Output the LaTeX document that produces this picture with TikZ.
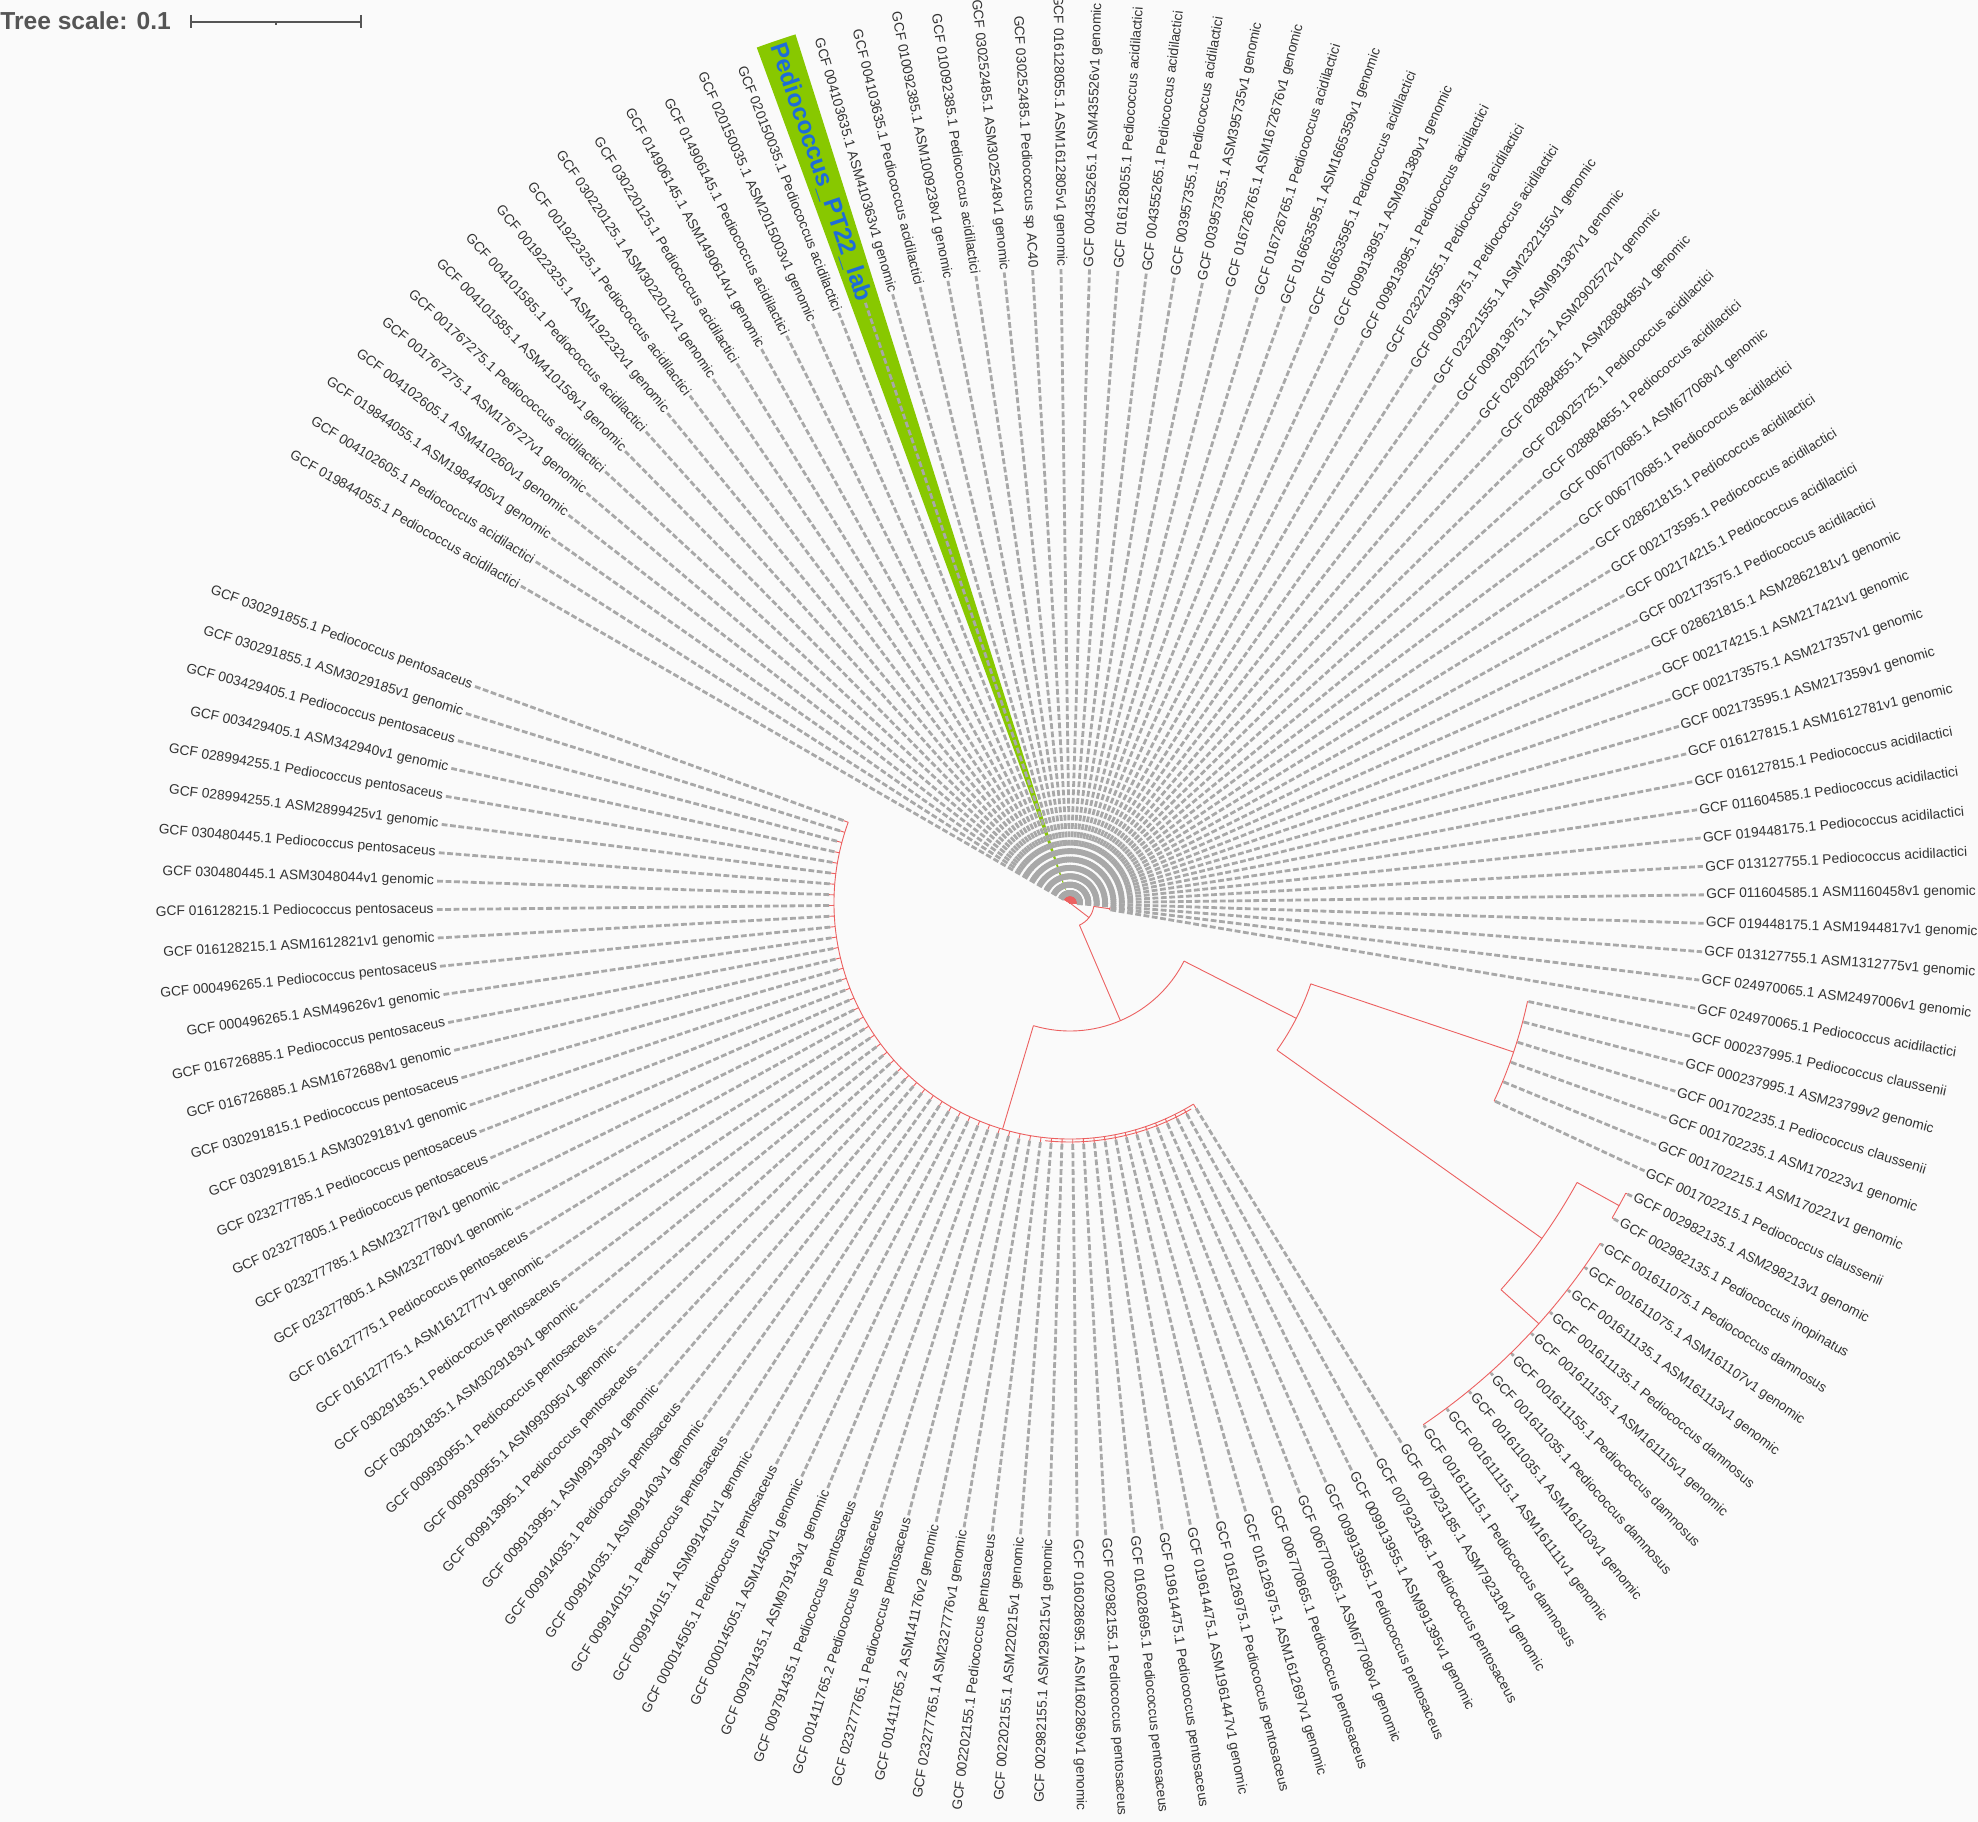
\documentclass[tikz,border=0pt]{standalone}
\usepackage{fontspec}
\setmainfont{Liberation Sans}
\definecolor{bgcol}{RGB}{250,250,250}
\definecolor{labtext}{RGB}{51,51,51}
\definecolor{brred}{RGB}{236,96,96}
\definecolor{dashgray}{RGB}{168,168,168}
\definecolor{ptgreen}{RGB}{136,200,0}
\definecolor{ptblue}{RGB}{30,108,218}
\definecolor{scalegray}{RGB}{85,85,85}
\begin{document}
\begin{tikzpicture}[x=0.5pt, y=0.5pt,
    lab/.style={inner sep=1pt, text=labtext, font=\fontsize{6.9}{8}\selectfont},
    ptlab/.style={inner sep=1pt, text=ptblue, font=\fontsize{12.2}{14}\selectfont\bfseries},
    br/.style={draw=brred, line width=0.45pt},
    leafdash/.style={draw=dashgray, line width=1.4pt, dash pattern=on 2.9pt off 1.3pt},
    ptband/.style={fill=ptgreen},
    sbar/.style={draw=scalegray, line width=0.85pt},
    scaletxt/.style={inner sep=0pt, text=scalegray, font=\fontsize{12.3}{14}\selectfont\bfseries}]
  \fill[bgcol] (-1070,-919) rectangle (908,903);
  \useasboundingbox (-1070,-919) rectangle (908,903);

  \node[scaletxt, anchor=base west] (ts) at (-1070,873) {Tree scale: 0.1};
  \coordinate (sbl) at (-879,881);
  \coordinate (sbm) at (-794,881);
  \coordinate (sbr) at (-709,881);
  \draw[sbar] (sbl) -- (sbr);
  \draw[sbar] (sbl) ++(0,7) -- ++(0,-13.5);
  \draw[sbar] (sbr) ++(0,7) -- ++(0,-13.5);
  \draw[sbar] (sbm) -- ++(0,-3.5);

  \fill[ptband] (107.54:14) -- (107.54:911) arc[start angle=107.54, end angle=110.11, radius=911] -- (110.11:14) -- cycle;

  \coordinate (root) at (0,0);
  \def\rl{634}
  \foreach \ra/\rt/\txt [count=\i] in {
      0/7/GCF 019844055.1 Pediococcus acidilactici,
      0/7/GCF 004102605.1 Pediococcus acidilactici,
      0/7/GCF 019844055.1 ASM1984405v1 genomic,
      0/7/GCF 004102605.1 ASM410260v1 genomic,
      0/7/GCF 001767275.1 ASM176727v1 genomic,
      0/7/GCF 001767275.1 Pediococcus acidilactici,
      0/7/GCF 004101585.1 ASM410158v1 genomic,
      0/7/GCF 004101585.1 Pediococcus acidilactici,
      0/7/GCF 001922325.1 ASM192232v1 genomic,
      0/7/GCF 001922325.1 Pediococcus acidilactici,
      0/7/GCF 030220125.1 ASM3022012v1 genomic,
      0/7/GCF 030220125.1 Pediococcus acidilactici,
      0/7/GCF 014906145.1 ASM1490614v1 genomic,
      0/7/GCF 014906145.1 Pediococcus acidilactici,
      0/7/GCF 020150035.1 ASM2015003v1 genomic,
      0/7/GCF 020150035.1 Pediococcus acidilactici,
      0/7/Pediococcus\_PT22\_lab,
      0/7/GCF 004103635.1 ASM410363v1 genomic,
      0/7/GCF 004103635.1 Pediococcus acidilactici,
      0/7/GCF 010092385.1 ASM1009238v1 genomic,
      0/7/GCF 010092385.1 Pediococcus acidilactici,
      0/7/GCF 030252485.1 ASM3025248v1 genomic,
      0/7/GCF 030252485.1 Pediococcus sp AC40,
      0/7/GCF 016128055.1 ASM1612805v1 genomic,
      0/7/GCF 004355265.1 ASM435526v1 genomic,
      0/7/GCF 016128055.1 Pediococcus acidilactici,
      0/7/GCF 004355265.1 Pediococcus acidilactici,
      0/7/GCF 003957355.1 Pediococcus acidilactici,
      0/7/GCF 003957355.1 ASM395735v1 genomic,
      0/7/GCF 016726765.1 ASM1672676v1 genomic,
      0/7/GCF 016726765.1 Pediococcus acidilactici,
      0/7/GCF 016653595.1 ASM1665359v1 genomic,
      0/7/GCF 016653595.1 Pediococcus acidilactici,
      0/7/GCF 009913895.1 ASM991389v1 genomic,
      0/7/GCF 009913895.1 Pediococcus acidilactici,
      0/7/GCF 023221555.1 Pediococcus acidilactici,
      0/7/GCF 009913875.1 Pediococcus acidilactici,
      0/7/GCF 023221555.1 ASM2322155v1 genomic,
      0/7/GCF 009913875.1 ASM991387v1 genomic,
      0/7/GCF 029025725.1 ASM2902572v1 genomic,
      0/7/GCF 028884855.1 ASM2888485v1 genomic,
      0/7/GCF 029025725.1 Pediococcus acidilactici,
      0/7/GCF 028884855.1 Pediococcus acidilactici,
      0/7/GCF 006770685.1 ASM677068v1 genomic,
      0/7/GCF 006770685.1 Pediococcus acidilactici,
      0/7/GCF 028621815.1 Pediococcus acidilactici,
      0/7/GCF 002173595.1 Pediococcus acidilactici,
      0/7/GCF 002174215.1 Pediococcus acidilactici,
      0/7/GCF 002173575.1 Pediococcus acidilactici,
      0/7/GCF 028621815.1 ASM2862181v1 genomic,
      0/7/GCF 002174215.1 ASM217421v1 genomic,
      0/7/GCF 002173575.1 ASM217357v1 genomic,
      0/7/GCF 002173595.1 ASM217359v1 genomic,
      0/7/GCF 016127815.1 ASM1612781v1 genomic,
      0/7/GCF 016127815.1 Pediococcus acidilactici,
      0/7/GCF 011604585.1 Pediococcus acidilactici,
      0/7/GCF 019448175.1 Pediococcus acidilactici,
      0/7/GCF 013127755.1 Pediococcus acidilactici,
      0/7/GCF 011604585.1 ASM1160458v1 genomic,
      0/7/GCF 019448175.1 ASM1944817v1 genomic,
      0/7/GCF 013127755.1 ASM1312775v1 genomic,
      40/41/GCF 024970065.1 ASM2497006v1 genomic,
      40/41/GCF 024970065.1 Pediococcus acidilactici,
      468/469/GCF 000237995.1 Pediococcus claussenii,
      468/469/GCF 000237995.1 ASM23799v2 genomic,
      468/469/GCF 001702235.1 Pediococcus claussenii,
      468/469/GCF 001702235.1 ASM170223v1 genomic,
      468/469/GCF 001702215.1 ASM170221v1 genomic,
      468/469/GCF 001702215.1 Pediococcus claussenii,
      627/629/GCF 002982135.1 ASM298213v1 genomic,
      627/629/GCF 002982135.1 Pediococcus inopinatus,
      630/631/GCF 001611075.1 Pediococcus damnosus,
      630/631/GCF 001611075.1 ASM161107v1 genomic,
      630/631/GCF 001611135.1 ASM161113v1 genomic,
      630/631/GCF 001611135.1 Pediococcus damnosus,
      630/631/GCF 001611155.1 ASM161115v1 genomic,
      630/631/GCF 001611155.1 Pediococcus damnosus,
      630/631/GCF 001611035.1 Pediococcus damnosus,
      630/631/GCF 001611035.1 ASM161103v1 genomic,
      630/631/GCF 001611115.1 ASM161111v1 genomic,
      630/631/GCF 001611115.1 Pediococcus damnosus,
      236/241/GCF 007923185.1 ASM792318v1 genomic,
      236/241/GCF 007923185.1 Pediococcus pentosaceus,
      236/241/GCF 009913955.1 ASM991395v1 genomic,
      236/241/GCF 009913955.1 Pediococcus pentosaceus,
      236/241/GCF 006770865.1 ASM677086v1 genomic,
      236/241/GCF 006770865.1 Pediococcus pentosaceus,
      236/241/GCF 016126975.1 ASM1612697v1 genomic,
      236/241/GCF 016126975.1 Pediococcus pentosaceus,
      236/241/GCF 019614475.1 ASM1961447v1 genomic,
      236/241/GCF 019614475.1 Pediococcus pentosaceus,
      236/241/GCF 016028695.1 Pediococcus pentosaceus,
      236/241/GCF 002982155.1 Pediococcus pentosaceus,
      236/241/GCF 016028695.1 ASM1602869v1 genomic,
      236/241/GCF 002982155.1 ASM298215v1 genomic,
      236/241/GCF 002202155.1 ASM220215v1 genomic,
      236/241/GCF 002202155.1 Pediococcus pentosaceus,
      236/241/GCF 023277765.1 ASM2327776v1 genomic,
      236/241/GCF 001411765.2 ASM141176v2 genomic,
      236/241/GCF 023277765.1 Pediococcus pentosaceus,
      236/241/GCF 001411765.2 Pediococcus pentosaceus,
      236/241/GCF 009791435.1 Pediococcus pentosaceus,
      236/241/GCF 009791435.1 ASM979143v1 genomic,
      236/241/GCF 000014505.1 ASM1450v1 genomic,
      236/241/GCF 000014505.1 Pediococcus pentosaceus,
      236/241/GCF 009914015.1 ASM991401v1 genomic,
      236/241/GCF 009914015.1 Pediococcus pentosaceus,
      236/241/GCF 009914035.1 ASM991403v1 genomic,
      236/241/GCF 009914035.1 Pediococcus pentosaceus,
      236/241/GCF 009913995.1 ASM991399v1 genomic,
      236/241/GCF 009913995.1 Pediococcus pentosaceus,
      236/241/GCF 009930955.1 ASM993095v1 genomic,
      236/241/GCF 009930955.1 Pediococcus pentosaceus,
      236/241/GCF 030291835.1 ASM3029183v1 genomic,
      236/241/GCF 030291835.1 Pediococcus pentosaceus,
      236/241/GCF 016127775.1 ASM1612777v1 genomic,
      236/241/GCF 016127775.1 Pediococcus pentosaceus,
      236/241/GCF 023277805.1 ASM2327780v1 genomic,
      236/241/GCF 023277785.1 ASM2327778v1 genomic,
      236/241/GCF 023277805.1 Pediococcus pentosaceus,
      236/241/GCF 023277785.1 Pediococcus pentosaceus,
      236/241/GCF 030291815.1 ASM3029181v1 genomic,
      236/241/GCF 030291815.1 Pediococcus pentosaceus,
      236/241/GCF 016726885.1 ASM1672688v1 genomic,
      236/241/GCF 016726885.1 Pediococcus pentosaceus,
      236/241/GCF 000496265.1 ASM49626v1 genomic,
      236/241/GCF 000496265.1 Pediococcus pentosaceus,
      236/241/GCF 016128215.1 ASM1612821v1 genomic,
      236/241/GCF 016128215.1 Pediococcus pentosaceus,
      236/241/GCF 030480445.1 ASM3048044v1 genomic,
      236/241/GCF 030480445.1 Pediococcus pentosaceus,
      236/241/GCF 028994255.1 ASM2899425v1 genomic,
      236/241/GCF 028994255.1 Pediococcus pentosaceus,
      236/241/GCF 003429405.1 ASM342940v1 genomic,
      236/241/GCF 003429405.1 Pediococcus pentosaceus,
      236/241/GCF 030291855.1 ASM3029185v1 genomic,
      236/241/GCF 030291855.1 Pediococcus pentosaceus}{
    \pgfmathsetmacro\ang{150-(\i-1)*2.5735}
    \ifnum\i<25 \def\lanc{east}\pgfmathsetmacro\lrot{\ang+180}\else
      \ifnum\i<95 \def\lanc{west}\pgfmathsetmacro\lrot{\ang}\else
        \def\lanc{east}\pgfmathsetmacro\lrot{\ang+180}\fi\fi
    \coordinate (a\i) at (\ang:\ra);
    \coordinate (t\i) at (\ang:\rt);
    \ifnum\i=17
      \node[ptlab, anchor=\lanc, rotate=\lrot] (l\i) at (\ang:\rl) {\txt};
    \else
      \node[lab, anchor=\lanc, rotate=\lrot] (l\i) at (\ang:\rl) {\txt};
    \fi
    \draw[br] (a\i) -- (t\i);
    \draw[leafdash] (t\i) -- (l\i);
  }

  \coordinate (n1) at (-37.5:24);
  \coordinate (n1a) at (-8.27:24);
  \coordinate (n1b) at (-66.8:24);
  \draw[br] (root) -- (n1);
  \draw[br] (n1a) arc[start angle=-8.27, end angle=-66.8, radius=24];
  \coordinate (n62) at (-8.27:40);
  \draw[br] (n1a) -- (n62);
  \draw[br] (a62) arc[start angle=-6.98, end angle=-9.56, radius=40];
  \coordinate (n2) at (-66.8:128);
  \coordinate (n2a) at (-27:128);
  \coordinate (n2b) at (-106.6:128);
  \draw[br] (n1b) -- (n2);
  \draw[br] (n2a) arc[start angle=-27, end angle=-106.6, radius=128];
  \coordinate (npe) at (-106.6:236);
  \draw[br] (n2b) -- (npe);
  \draw[br] (a82) arc[start angle=-58.45, end angle=-200, radius=236];
  \coordinate (nps) at (-59.5:239);
  \draw[br] (nps) arc[start angle=-59.5, end angle=-96, radius=239];
  \coordinate (n3) at (-27:254);
  \coordinate (n3a) at (-18.57:254);
  \coordinate (n3b) at (-35.4:254);
  \draw[br] (n2a) -- (n3);
  \draw[br] (n3a) arc[start angle=-18.57, end angle=-35.4, radius=254];
  \coordinate (ncl) at (-18.57:468);
  \draw[br] (n3a) -- (ncl);
  \draw[br] (a64) arc[start angle=-12.13, end angle=-25.0, radius=468];
  \coordinate (nid) at (-35.4:579);
  \coordinate (nida) at (-28.86:579);
  \coordinate (nidb) at (-41.9:579);
  \draw[br] (n3b) -- (nid);
  \draw[br] (nida) arc[start angle=-28.86, end angle=-41.9, radius=579];
  \coordinate (nin) at (-28.86:627);
  \draw[br] (nida) -- (nin);
  \draw[br] (a70) arc[start angle=-27.57, end angle=-30.14, radius=627];
  \coordinate (nda) at (-41.9:630);
  \draw[br] (nidb) -- (nda);
  \draw[br] (a72) arc[start angle=-32.71, end angle=-55.88, radius=630];
\end{tikzpicture}
\end{document}
